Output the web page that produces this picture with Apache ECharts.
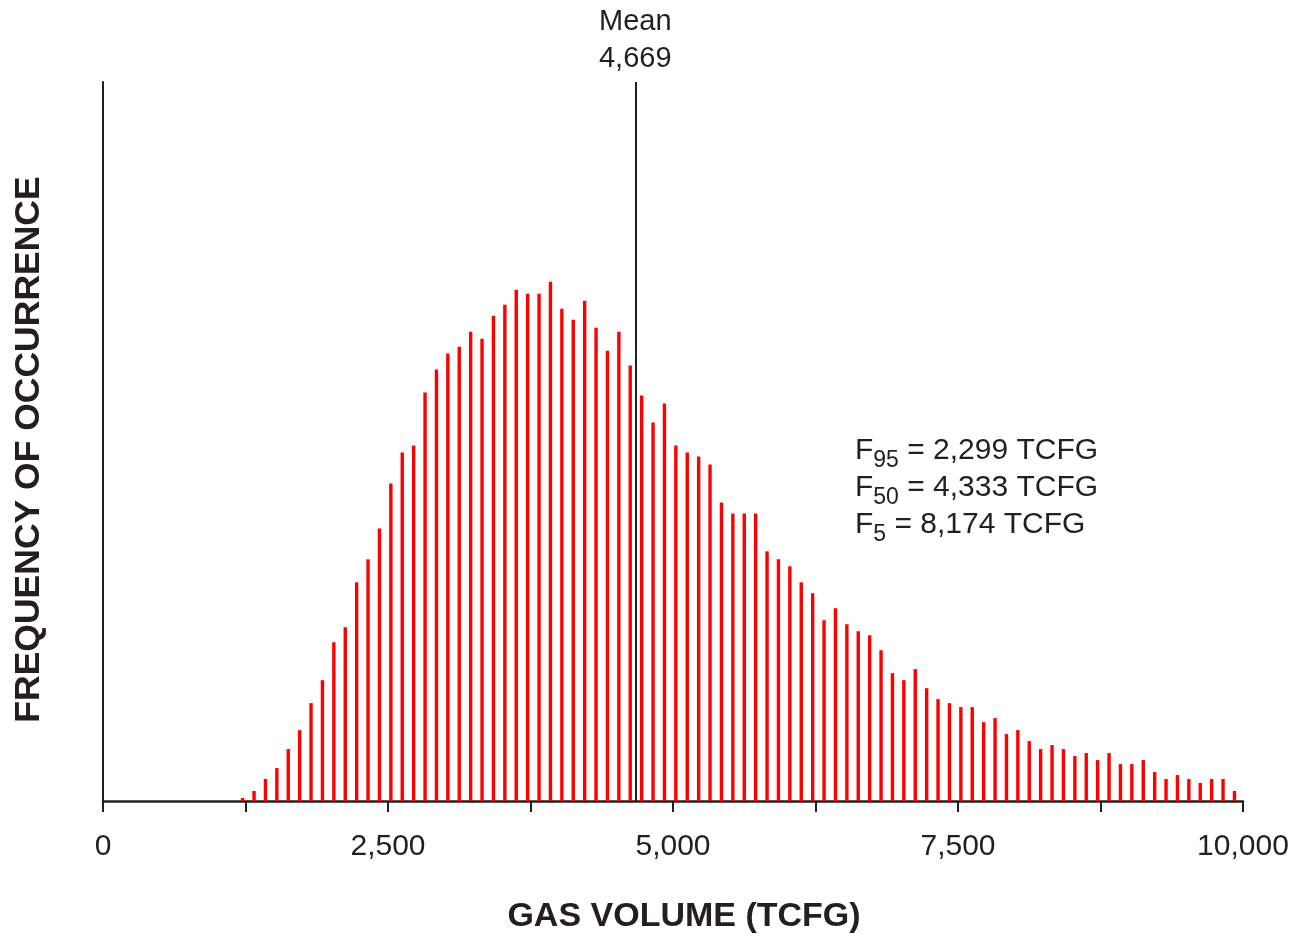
<!DOCTYPE html>
<html>
<head>
<meta charset="utf-8">
<title>Gas volume distribution</title>
<script src="https://cdn.jsdelivr.net/npm/echarts@6/dist/echarts.min.js"></script>
<style>
  html, body { margin: 0; padding: 0; background: #ffffff; }
  #chart { width: 1300px; height: 943px; }
</style>
</head>
<body>
<div id="chart"></div>
<script>
// Histogram bins: lower edge of the first bin and the bin width (TCFG)
const binStart = 1175;
const binWidth = 100;

// Frequency of occurrence per bin (relative counts)
const frequencies = [
  3, 10, 22, 33, 52, 71, 98, 121, 159, 174,
  219, 242, 273, 318, 349, 356, 409, 432, 448, 455,
  470, 463, 486, 497, 512, 508, 508, 520, 493, 482,
  501, 474, 451, 470, 436, 406, 379, 398, 356, 349,
  345, 337, 299, 288, 288, 288, 250, 242, 235, 219,
  208, 181, 193, 177, 170, 166, 151, 128, 121, 132,
  113, 102, 98, 94, 94, 79, 83, 67, 71, 60,
  52, 56, 52, 45, 48, 41, 48, 37, 37, 41,
  29, 22, 26, 22, 18, 22, 22, 10
];

// Summary statistics (TCFG)
const meanValue = 4669;
const fractileNames = ['95', '50', '5'];
const fractileValues = [2299, 4333, 8174];

// Axis settings
const xMin = 0;
const xMax = 10000;
const xTickStep = 1250;
const xLabelStep = 2500;
const yMax = 720;

const ink = '#231f20';
const font = '"Liberation Sans", Arial, Helvetica, sans-serif';
const fmt = v => Number(v).toLocaleString('en-US');

const barData = frequencies.map((f, i) => [binStart + binWidth * i + binWidth / 2, f]);

// One text block per fractile line, with the percentile as a subscript
const fractileRich = {
  f: { fontFamily: font, fontSize: 30, lineHeight: 30, verticalAlign: 'top', fill: ink },
  s: { fontFamily: font, fontSize: 23, lineHeight: 23, padding: [13, 0, 0, 0], verticalAlign: 'top', fill: ink }
};
const fractileGraphics = fractileNames.map((name, i) => ({
  type: 'text',
  left: 855,
  top: 436 + i * 37,
  style: {
    text: '{f|F}{s|' + name + '}{f| = ' + fmt(fractileValues[i]) + ' TCFG}',
    rich: fractileRich
  }
}));

const chart = echarts.init(document.getElementById('chart'), null, { renderer: 'canvas' });

chart.setOption({
  animation: false,
  backgroundColor: '#ffffff',
  grid: { left: 103, right: 57, top: 82, bottom: 142, containLabel: false },
  xAxis: {
    type: 'value',
    min: xMin,
    max: xMax,
    interval: xTickStep,
    name: 'GAS VOLUME (TCFG)',
    nameLocation: 'middle',
    nameGap: 99,
    nameTextStyle: {
      fontFamily: font, fontWeight: 'bold', fontSize: 34, color: ink,
      padding: [0, 0, 0, 22]
    },
    axisLine: { show: true, onZero: false, lineStyle: { color: ink, width: 2.5 } },
    axisTick: { show: true, length: 11, lineStyle: { color: ink, width: 2 } },
    axisLabel: {
      show: true,
      margin: 31,
      fontFamily: font,
      fontSize: 30,
      color: ink,
      showMinLabel: true,
      showMaxLabel: true,
      formatter: v => (v % xLabelStep === 0 ? fmt(v) : '')
    },
    splitLine: { show: false }
  },
  yAxis: {
    type: 'value',
    min: 0,
    max: yMax,
    name: 'FREQUENCY OF OCCURRENCE',
    nameLocation: 'middle',
    nameGap: 56,
    nameRotate: 90,
    nameTextStyle: {
      fontFamily: font, fontWeight: 'bold', fontSize: 35.5, color: ink,
      padding: [0, 16, 0, 0]
    },
    axisLine: { show: true, lineStyle: { color: ink, width: 2 } },
    axisTick: { show: false },
    axisLabel: { show: false },
    splitLine: { show: false }
  },
  series: [
    {
      type: 'bar',
      data: barData,
      barWidth: 3.4,
      itemStyle: { color: '#ff0000' },
      z: 2,
      markLine: {
        silent: true,
        symbol: ['none', 'none'],
        z: 5,
        lineStyle: { color: ink, width: 2, type: 'solid' },
        label: {
          show: true,
          position: 'end',
          distance: 5,
          formatter: 'Mean\n' + fmt(meanValue),
          fontFamily: font,
          fontSize: 29,
          lineHeight: 37,
          color: ink
        },
        data: [{ xAxis: meanValue }]
      }
    }
  ],
  graphic: fractileGraphics
});
</script>
</body>
</html>
